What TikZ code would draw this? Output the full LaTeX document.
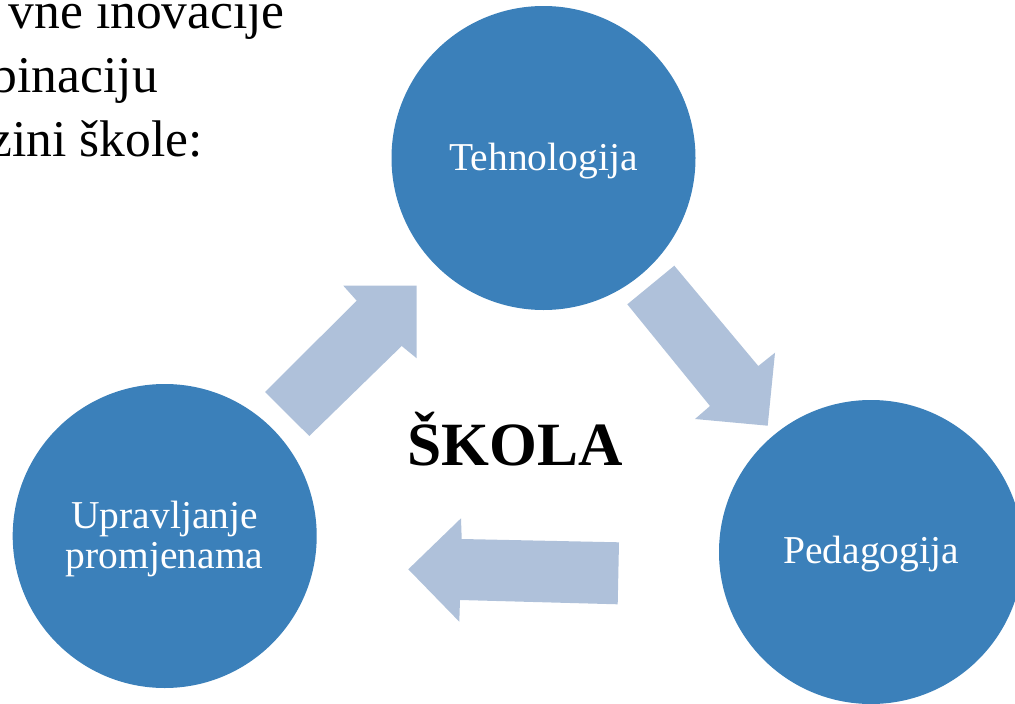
\documentclass[tikz,border=0pt]{standalone}
\usepackage{fontspec}
\setmainfont{Liberation Serif}
\begin{document}
\begin{tikzpicture}[x=1pt,y=-1pt,
  bubble/.style={circle, fill=circblue, draw=none, minimum size=304pt, inner sep=0pt},
  bubbletext/.style={text=white, font=\fontsize{39.5}{40}\selectfont, anchor=base, inner sep=0pt},
  bigarrow/.style={fill=arrowblue, draw=none},
  toptext/.style={font=\fontsize{51.5}{64}\selectfont, anchor=base east, inner sep=0pt}]
\definecolor{circblue}{HTML}{3B80BA}
\definecolor{arrowblue}{HTML}{AFC1DA}
\useasboundingbox (0,0) rectangle (1015,704);
\clip (0,0) rectangle (1015,704);
% top-left text fragments
\node[toptext] (l1) at (285,28.3) {vne inovacije};
\node[toptext] (l2) at (158,92) {binaciju};
\node[toptext] (l3) at (203,156.5) {zini škole:};
% circles
\node[bubble] (tech) at (543.5,158) {};
\node[bubble] (ped) at (871,552) {};
\node[bubble] (upr) at (164.7,536) {};
\node[bubbletext] (techt) at (543.5,170.5) {Tehnologija};
\node[bubbletext] (pedt) at (871,563) {Pedagogija};
\node[bubbletext] (uprt1) at (164.7,528) {Upravljanje};
\node[bubbletext] (uprt2) at (164.7,568) {promjenama};
% arrows
\fill[bigarrow] (265,392) -- (356.7,300.7) -- (343.3,285.7) -- (416.7,285.7)
  -- (416.7,358.3) -- (401.7,346) -- (309.3,436) -- cycle;
\fill[bigarrow] (627.3,304.3) -- (674.3,265.7) -- (758.3,366) -- (775,352.7)
  -- (767.7,425.7) -- (695,419) -- (710,406) -- cycle;
\fill[bigarrow] (408.3,569.3) -- (461,518.3) -- (461.7,539) -- (619,542.3)
  -- (617.7,604.3) -- (460,600) -- (459.3,621.7) -- cycle;
% centre label
\node[font=\fontsize{61.5}{62}\selectfont\bfseries, anchor=base, inner sep=0pt] (skola) at (515,465) {ŠKOLA};
\end{tikzpicture}
\end{document}
